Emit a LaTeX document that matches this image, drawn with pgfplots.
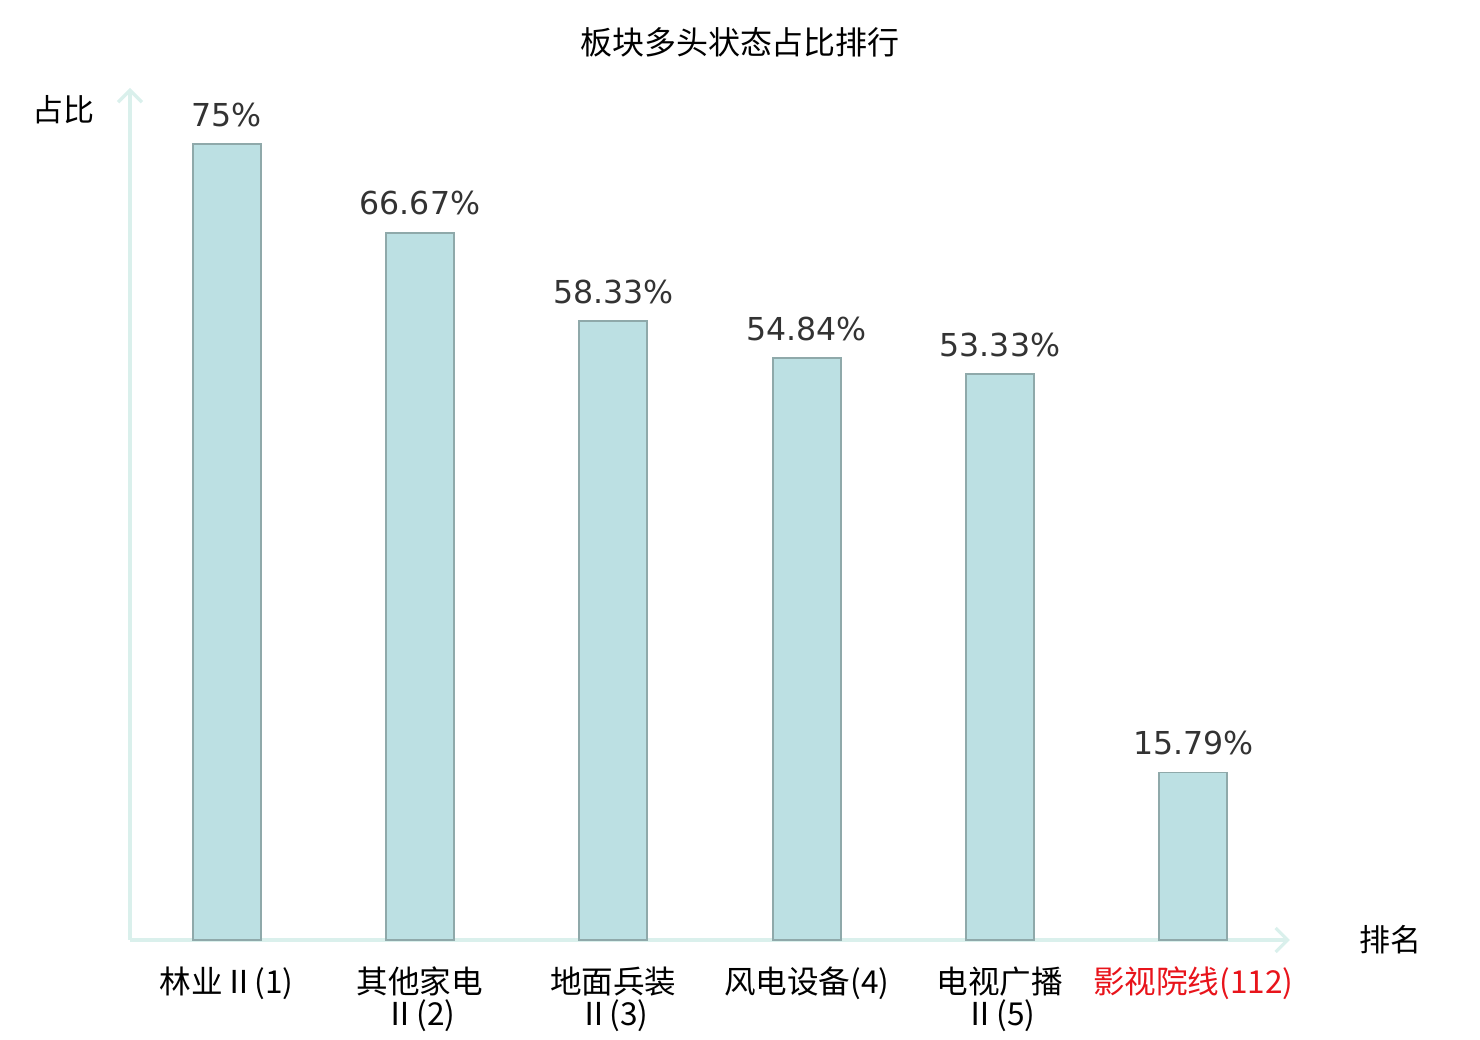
\documentclass[border=0pt]{standalone}
\usepackage{pgfplots}
\pgfplotsset{compat=1.18}
\usepackage{fontspec}
\usetikzlibrary{arrows.meta}
\setmainfont{DejaVu Sans}
\newfontfamily\cjk{Noto Sans CJK SC}
\definecolor{barfill}{HTML}{BCE0E3}
\definecolor{baredge}{HTML}{8FA9AA}
\definecolor{axcol}{HTML}{DAF0EC}
\definecolor{lblred}{HTML}{E8141B}
\definecolor{valcol}{HTML}{333333}
\begin{document}
\begin{tikzpicture}
\begin{axis}[
  scale only axis,
  width=580pt, height=426pt,
  xmin=-0.5, xmax=5.5, ymin=0, ymax=80.3,
  axis lines=left,
  axis line style={draw=axcol, line width=1.6pt, -{Straight Barb[length=6pt,width=12pt]}},
  ytick=\empty,
  xtick=data,
  major tick length=0pt,
  xticklabels={
    {林业Ⅱ(1)},
    {其他家电\\Ⅱ(2)},
    {地面兵装\\Ⅱ(3)},
    {风电设备(4)},
    {电视广播\\Ⅱ(5)},
    {\color{lblred}影视院线(112)}},
  xticklabel style={font=\cjk\fontsize{15.8pt}{16pt}\selectfont, align=center, anchor=north, yshift=-10pt, text depth=0pt},
  ybar, bar width=34pt,
  /pgf/number format/assume math mode=true,
  nodes near coords={\pgfmathprintnumber[fixed,precision=2,assume math mode=true]{\pgfplotspointmeta}\%},
  nodes near coords style={font=\fontsize{15.8pt}{18pt}\selectfont, text=valcol, anchor=south, yshift=5pt},
  clip=false,
]
\addplot[fill=barfill, draw=baredge, line width=0.9pt] coordinates {
  (0,75) (1,66.67) (2,58.33) (3,54.84) (4,53.33) (5,15.79)
};
\end{axis}
\node[font=\cjk\fontsize{16pt}{18pt}\selectfont] at (305pt,449pt) {板块多头状态占比排行};
\node[font=\cjk\fontsize{15.5pt}{16pt}\selectfont] at (-33pt,415pt) {占比};
\node[font=\cjk\fontsize{15.5pt}{16pt}\selectfont] at (630pt,0pt) {排名};
\pgfresetboundingbox
\path[use as bounding box] (-65pt,-50pt) rectangle (675pt,470pt);
\end{tikzpicture}
\end{document}
